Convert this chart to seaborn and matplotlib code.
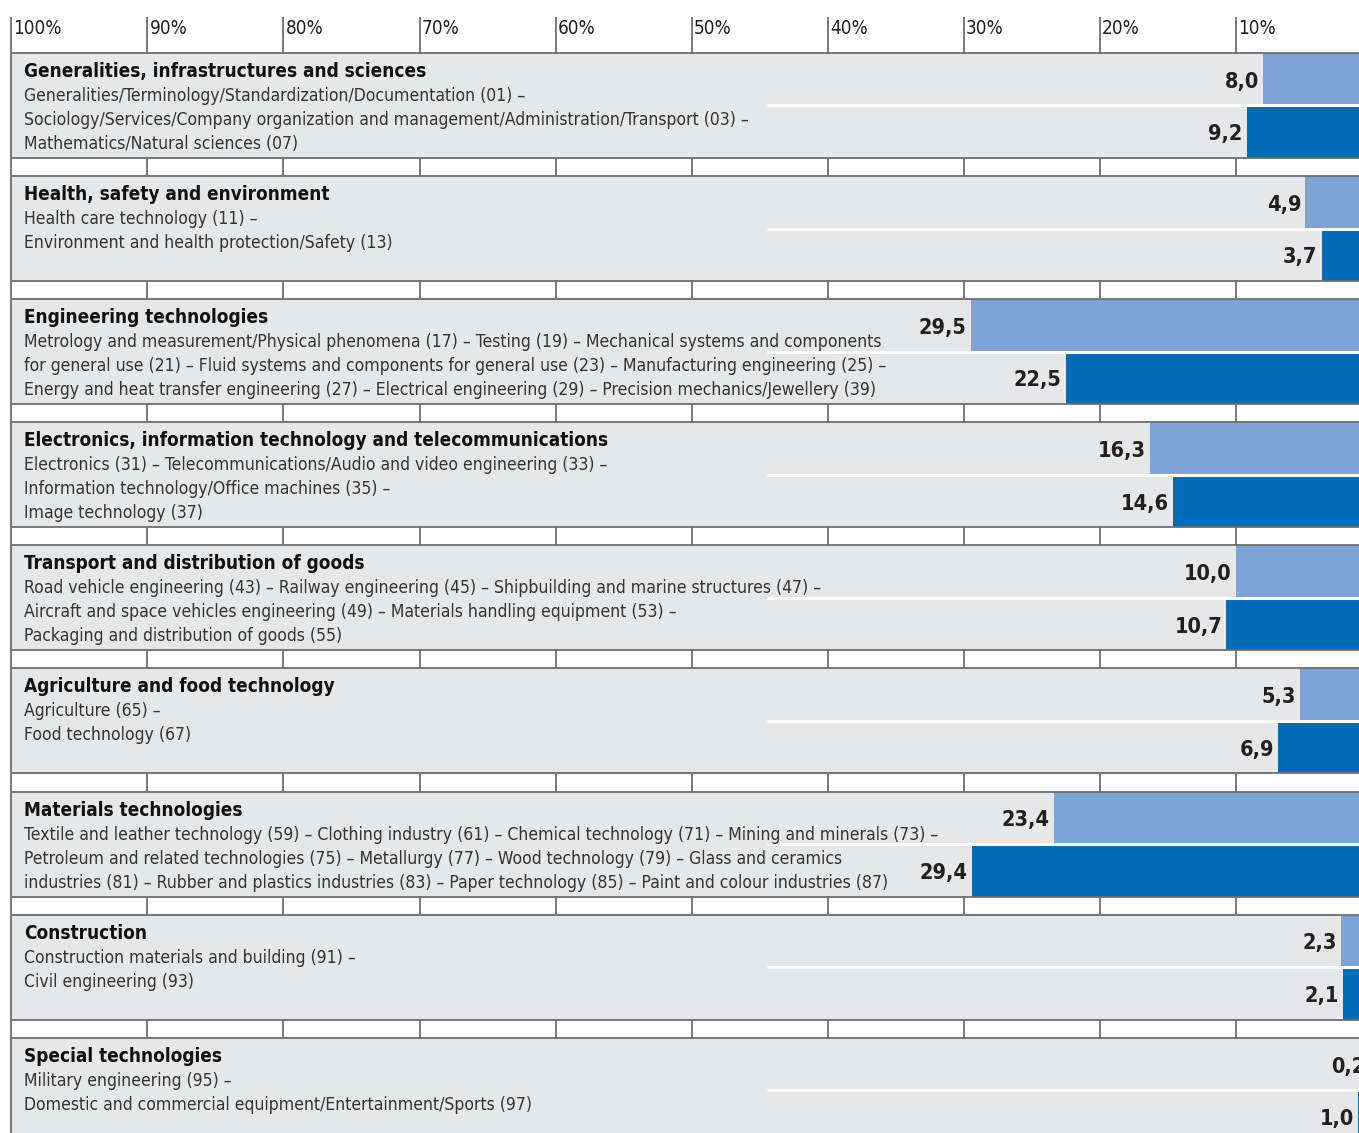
import pandas as pd
import seaborn as sns
import matplotlib.pyplot as plt

titles = [
    "Generalities, infrastructures and sciences",
    "Health, safety and environment",
    "Engineering technologies",
    "Electronics, information technology and telecommunications",
    "Transport and distribution of goods",
    "Agriculture and food technology",
    "Materials technologies",
    "Construction",
    "Special technologies",
]
details = [
    ["Generalities/Terminology/Standardization/Documentation (01) –",
     "Sociology/Services/Company organization and management/Administration/Transport (03) –",
     "Mathematics/Natural sciences (07)"],
    ["Health care technology (11) –",
     "Environment and health protection/Safety (13)"],
    ["Metrology and measurement/Physical phenomena (17) – Testing (19) – Mechanical systems and components",
     "for general use (21) – Fluid systems and components for general use (23) – Manufacturing engineering (25) –",
     "Energy and heat transfer engineering (27) – Electrical engineering (29) – Precision mechanics/Jewellery (39)"],
    ["Electronics (31) – Telecommunications/Audio and video engineering (33) –",
     "Information technology/Office machines (35) –",
     "Image technology (37)"],
    ["Road vehicle engineering (43) – Railway engineering (45) – Shipbuilding and marine structures (47) –",
     "Aircraft and space vehicles engineering (49) – Materials handling equipment (53) –",
     "Packaging and distribution of goods (55)"],
    ["Agriculture (65) –",
     "Food technology (67)"],
    ["Textile and leather technology (59) – Clothing industry (61) – Chemical technology (71) – Mining and minerals (73) –",
     "Petroleum and related technologies (75) – Metallurgy (77) – Wood technology (79) – Glass and ceramics",
     "industries (81) – Rubber and plastics industries (83) – Paper technology (85) – Paint and colour industries (87)"],
    ["Construction materials and building (91) –",
     "Civil engineering (93)"],
    ["Military engineering (95) –",
     "Domestic and commercial equipment/Entertainment/Sports (97)"],
]
share_first = [8.0, 4.9, 29.5, 16.3, 10.0, 5.3, 23.4, 2.3, 0.2]
share_second = [9.2, 3.7, 22.5, 14.6, 10.7, 6.9, 29.4, 2.1, 1.0]
tick_values = [100, 90, 80, 70, 60, 50, 40, 30, 20, 10]
tick_labels = ["100%", "90%", "80%", "70%", "60%", "50%", "40%", "30%", "20%", "10%"]

light_blue = "#7ea3d5"
dark_blue = "#006bb6"
band_grey = "#e6e7e8"
line_grey = "#6d6e71"

sns.set_theme(style="white")
plt.rcParams["font.family"] = ["DejaVu Sans"]
plt.rcParams["font.stretch"] = "condensed"

df = pd.DataFrame({
    "group": titles * 2,
    "share": share_first + share_second,
    "series": ["first"] * len(titles) + ["second"] * len(titles),
})

n = len(titles)
half = 0.4265          # half band height (group units)
px = 1 / 123.1         # one pixel in group units
x_left, x_right = 100.83, 0.96
y_top, y_bottom = -0.857, 8.347

fig = plt.figure(figsize=(13.59, 11.33), dpi=100)
ax = fig.add_axes([0, 0, 1, 1])

for i in range(n):
    ax.fill_between([100, -2], i - half, i + half, color=band_grey, lw=0, zorder=0)

sns.barplot(data=df, y="group", x="share", hue="series", orient="h",
            width=2 * half, palette=[light_blue, dark_blue], saturation=1,
            errorbar=None, legend=False, ax=ax, zorder=2, linewidth=0)

ax.set_xlim(x_left, x_right)
ax.set_ylim(y_bottom, y_top)
ax.axis("off")

# band borders
ax.hlines([i - half for i in range(n)] + [i + half for i in range(n)], 100, -2,
          color=line_grey, lw=1.3, zorder=3)
# white separator between the two bars
ax.hlines(range(n), 44.5, -2, color="white", lw=2.2, zorder=3)

# vertical scale lines in header and gaps
ax.vlines(100, y_top + 17 * px, y_bottom + 1, color=line_grey, lw=1.3, zorder=4)
ax.vlines(tick_values[1:], y_top + 17 * px, -half, color=line_grey, lw=1.3, zorder=1)
for i in range(n - 1):
    ax.vlines(tick_values[1:], i + half, i + 1 - half, color=line_grey, lw=1.3, zorder=1)

for t, lab in zip(tick_values, tick_labels):
    ax.annotate(lab, xy=(t, y_top + 34 * px), xytext=(1.5, 0), textcoords="offset points",
                ha="left", va="baseline", fontsize=13.6, color="#231f20")

for i in range(n):
    top = i - half
    ax.text(99.07, top + 24 * px, titles[i], fontsize=13.6, fontweight="bold",
            color="#111111", va="baseline", ha="left", zorder=5)
    for j, line in enumerate(details[i]):
        ax.text(99.07, top + (48 + 24 * j) * px, line, fontsize=12.6,
                color="#333333", va="baseline", ha="left", zorder=5)
    for v, yc in ((share_first[i], i - half / 2), (share_second[i], i + half / 2)):
        ax.annotate(f"{v:.1f}".replace(".", ","), xy=(v, yc + 8.5 * px), xytext=(-3, 0),
                    textcoords="offset points", ha="right", va="baseline",
                    fontsize=15.6, fontweight="bold", color="#231f20", zorder=5,
                    annotation_clip=False)

fig.savefig("out.png", dpi=100)
plt.close(fig)
